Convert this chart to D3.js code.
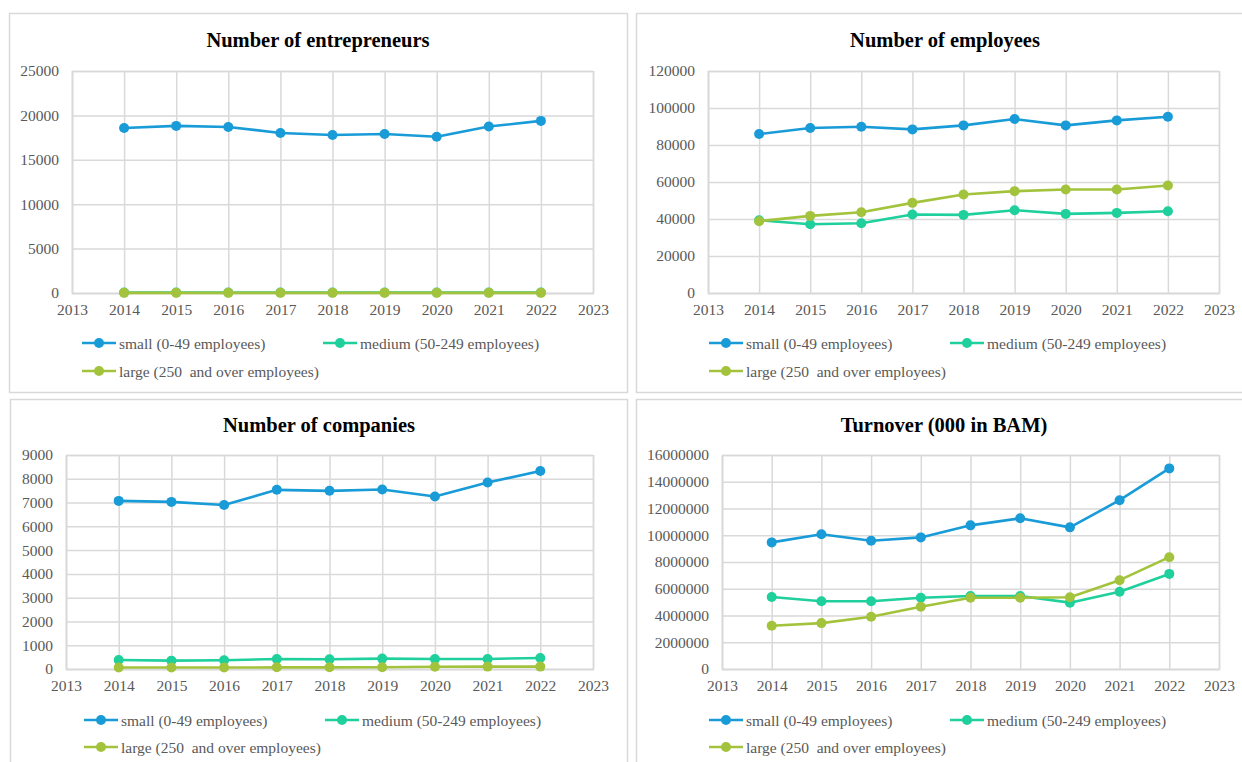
<!DOCTYPE html>
<html>
<head>
<meta charset="utf-8">
<script src="https://cdn.jsdelivr.net/npm/d3@7"></script>
<style>
  html, body { margin: 0; padding: 0; background: #ffffff; }
  svg { display: block; }
  text { font-family: "Liberation Serif", "Times New Roman", serif; }
</style>
</head>
<body>
<svg id="chart" width="1242" height="762"></svg>
<script>
// ---------- DATA ----------
const years = [2014, 2015, 2016, 2017, 2018, 2019, 2020, 2021, 2022];
const xTickYears = [2013, 2014, 2015, 2016, 2017, 2018, 2019, 2020, 2021, 2022, 2023];
const seriesNames = ["small (0-49 employees)", "medium (50-249 employees)", "large (250  and over employees)"];

const titles = ["Number of entrepreneurs", "Number of employees", "Number of companies", "Turnover (000 in BAM)"];

// Number of entrepreneurs
const entrepreneursSmall  = [18580, 18820, 18700, 18020, 17790, 17900, 17600, 18750, 19380];
const entrepreneursMedium = [60, 60, 60, 60, 60, 60, 60, 60, 60];
const entrepreneursLarge  = [15, 15, 15, 15, 15, 15, 15, 15, 15];

// Number of employees
const employeesSmall  = [85900, 89150, 89850, 88440, 90600, 94020, 90600, 93300, 95260];
const employeesMedium = [39350, 37180, 37720, 42440, 42220, 44760, 42760, 43300, 44220];
const employeesLarge  = [38800, 41680, 43680, 48720, 53260, 55050, 55960, 55960, 58130];

// Number of companies
const companiesSmall  = [7070, 7028, 6900, 7535, 7493, 7549, 7254, 7845, 8324];
const companiesMedium = [380, 352, 366, 423, 408, 437, 423, 423, 465];
const companiesLarge  = [60, 60, 60, 70, 70, 72, 95, 100, 100];

// Turnover (000 in BAM)
const turnoverSmall  = [9465000, 10070000, 9590000, 9840000, 10740000, 11270000, 10590000, 12620000, 15000000];
const turnoverMedium = [5380000, 5060000, 5060000, 5330000, 5460000, 5460000, 4960000, 5780000, 7110000];
const turnoverLarge  = [3230000, 3430000, 3910000, 4660000, 5330000, 5330000, 5360000, 6640000, 8360000];

const yTicksEntrepreneurs = [0, 5000, 10000, 15000, 20000, 25000];
const yTicksEmployees = [0, 20000, 40000, 60000, 80000, 100000, 120000];
const yTicksCompanies = [0, 1000, 2000, 3000, 4000, 5000, 6000, 7000, 8000, 9000];
const yTicksTurnover = [0, 2000000, 4000000, 6000000, 8000000, 10000000, 12000000, 14000000, 16000000];

// ---------- STYLE / LAYOUT ----------
const colors = ["#189bd7", "#1fcf9c", "#a3c33d"];
const gridColor = "#d9d9d9";
const textColor = "#595959";
const serif = '"Liberation Serif", "Times New Roman", serif';

const panels = [
  { title: titles[0], series: [entrepreneursSmall, entrepreneursMedium, entrepreneursLarge], yTicks: yTicksEntrepreneurs,
    frame: [9.5, 13.5, 618, 379], plot: [72, 71, 593, 293], titleX: 318, titleY: 40, legX: 82, legX2: 323, legY1: 343, legY2: 371 },
  { title: titles[1], series: [employeesSmall, employeesMedium, employeesLarge], yTicks: yTicksEmployees,
    frame: [636.5, 13.5, 620, 379], plot: [708, 71, 1219, 293], titleX: 945, titleY: 40, legX: 709, legX2: 950, legY1: 343, legY2: 371 },
  { title: titles[2], series: [companiesSmall, companiesMedium, companiesLarge], yTicks: yTicksCompanies,
    frame: [10.5, 399.5, 617, 380], plot: [66, 455, 593, 669], titleX: 319, titleY: 425, legX: 84, legX2: 325, legY1: 720, legY2: 747 },
  { title: titles[3], series: [turnoverSmall, turnoverMedium, turnoverLarge], yTicks: yTicksTurnover,
    frame: [636.5, 399.5, 620, 380], plot: [722, 455, 1219, 669], titleX: 944, titleY: 425, legX: 709, legX2: 950, legY1: 720, legY2: 747 }
];

const svg = d3.select("#chart");

panels.forEach(p => {
  const g = svg.append("g");
  // frame
  g.append("rect")
    .attr("x", p.frame[0]).attr("y", p.frame[1])
    .attr("width", p.frame[2]).attr("height", p.frame[3])
    .attr("fill", "#fff").attr("stroke", gridColor).attr("stroke-width", 1.5);

  // title
  g.append("text")
    .attr("x", p.titleX).attr("y", p.titleY)
    .attr("text-anchor", "middle").attr("dominant-baseline", "central")
    .style("font-family", serif)
    .attr("font-size", 20.5).attr("font-weight", "bold").attr("fill", "#000")
    .text(p.title);

  const [x0, y0, x1, y1] = p.plot;
  const x = d3.scaleLinear().domain([2013, 2023]).range([x0, x1]);
  const yMax = p.yTicks[p.yTicks.length - 1];
  const y = d3.scaleLinear().domain([0, yMax]).range([y1, y0]);

  // vertical grid (x axis)
  const xAxis = d3.axisBottom(x).tickValues(xTickYears).tickFormat(d3.format("d"))
    .tickSize(-(y1 - y0)).tickPadding(11);
  const gx = g.append("g").attr("transform", `translate(0,${y1})`).call(xAxis)
    .attr("font-family", null).attr("font-size", null);
  gx.select(".domain").attr("stroke", gridColor).attr("stroke-width", 1.5);
  gx.selectAll(".tick line").attr("stroke", gridColor).attr("stroke-width", 1.5);
  gx.selectAll(".tick text").attr("fill", textColor)
    .style("font-family", serif).style("font-size", "15.5px");

  // horizontal grid (y axis)
  const yAxis = d3.axisLeft(y).tickValues(p.yTicks).tickFormat(d3.format("d"))
    .tickSize(-(x1 - x0)).tickPadding(13);
  const gy = g.append("g").attr("transform", `translate(${x0},0)`).call(yAxis)
    .attr("font-family", null).attr("font-size", null);
  gy.select(".domain").attr("stroke", gridColor).attr("stroke-width", 1.5);
  gy.selectAll(".tick line").attr("stroke", gridColor).attr("stroke-width", 1.5);
  gy.selectAll(".tick text").attr("fill", textColor)
    .style("font-family", serif).style("font-size", "15.5px");

  // series
  const line = d3.line().x((d, i) => x(years[i])).y(d => y(d));
  p.series.forEach((vals, si) => {
    g.append("path").datum(vals)
      .attr("d", line).attr("fill", "none")
      .attr("stroke", colors[si]).attr("stroke-width", 2.6)
      .attr("stroke-linejoin", "round");
    g.selectAll(null).data(vals).enter().append("circle")
      .attr("cx", (d, i) => x(years[i])).attr("cy", d => y(d))
      .attr("r", 5).attr("fill", colors[si]);
  });

  // legend
  const legPos = [[p.legX, p.legY1], [p.legX2, p.legY1], [p.legX, p.legY2]];
  legPos.forEach((pos, si) => {
    const lg = g.append("g").attr("transform", `translate(${pos[0]},${pos[1]})`);
    lg.append("line").attr("x1", 0).attr("x2", 34).attr("y1", 0).attr("y2", 0)
      .attr("stroke", colors[si]).attr("stroke-width", 2.6);
    lg.append("circle").attr("cx", 17).attr("cy", 0).attr("r", 5).attr("fill", colors[si]);
    lg.append("text").attr("x", 37).attr("y", 0)
      .attr("dominant-baseline", "central")
      .style("font-family", serif).style("font-size", "15.5px")
      .attr("fill", textColor)
      .style("white-space", "pre")
      .text(seriesNames[si]);
  });
});
</script>
</body>
</html>
